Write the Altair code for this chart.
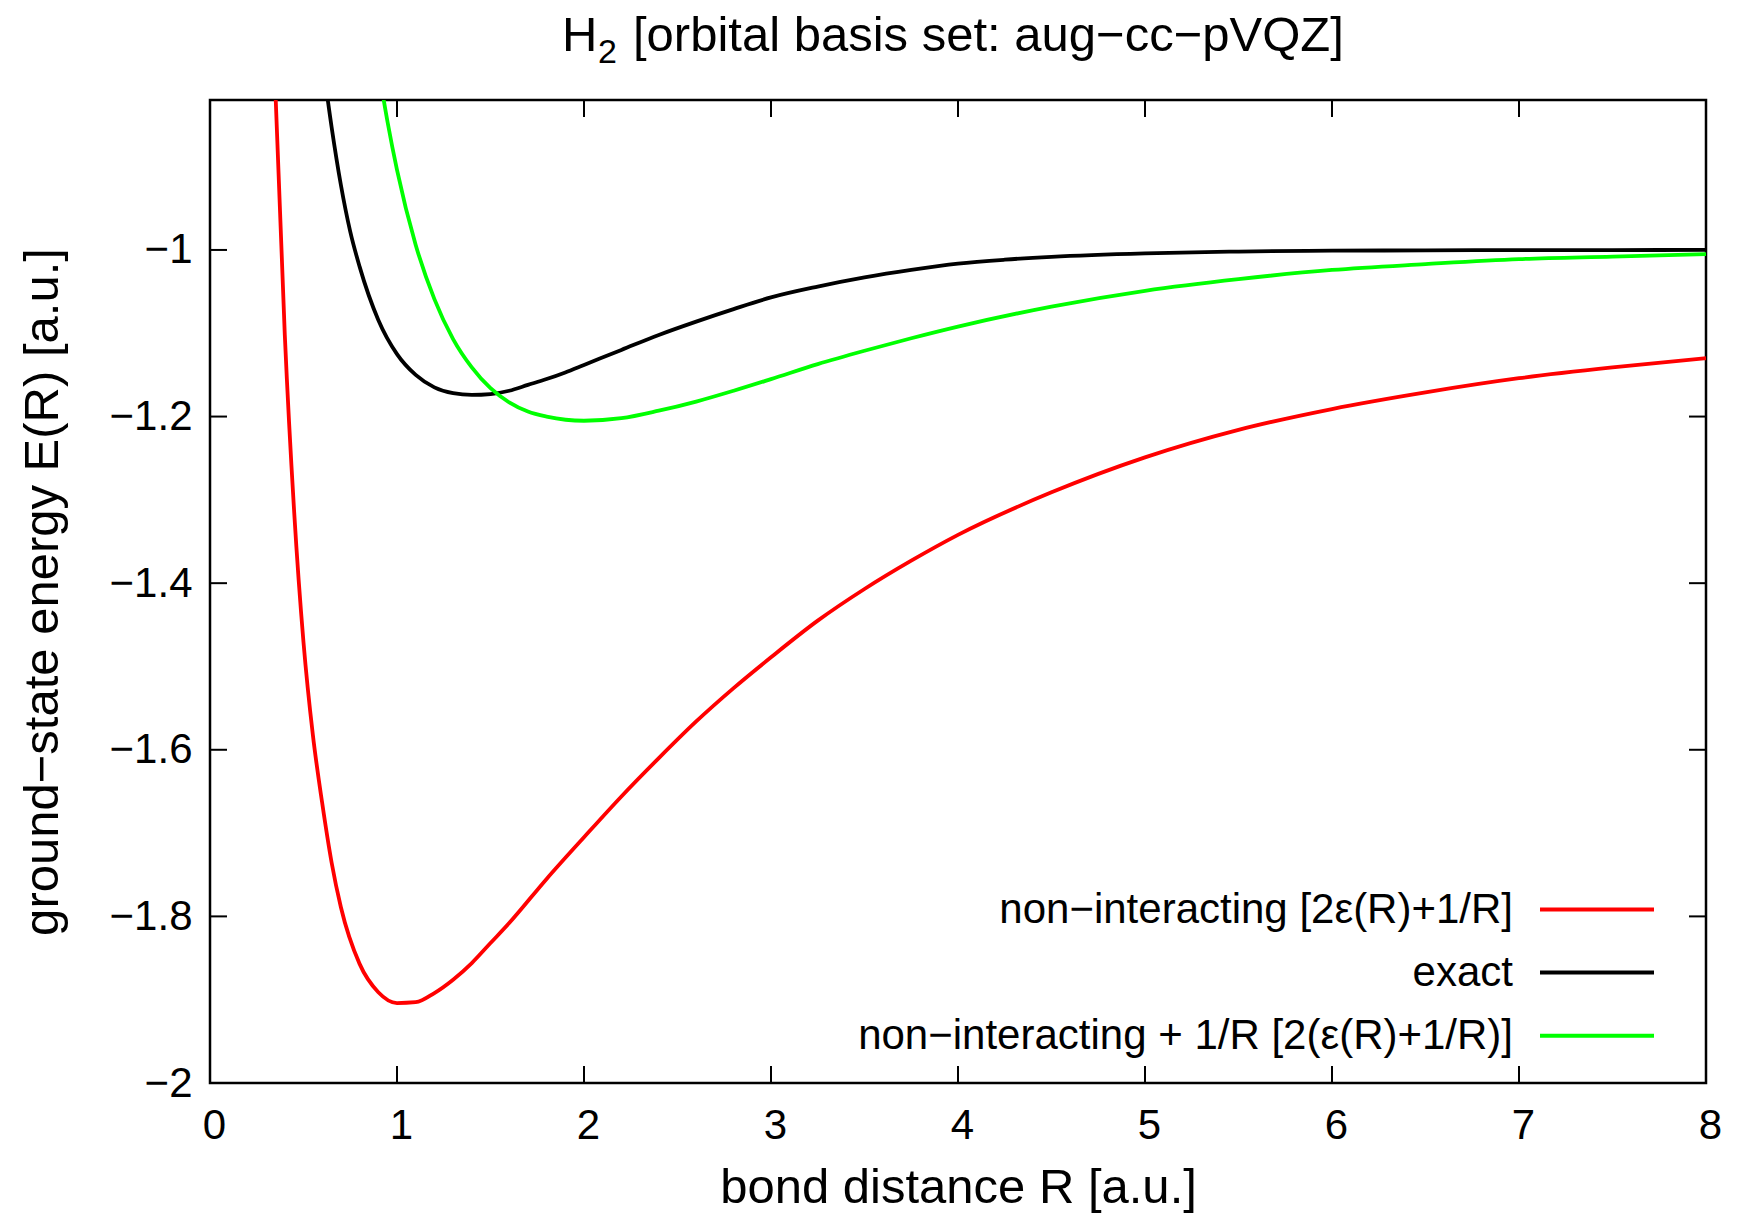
import altair as alt
import pandas as pd

# ---------------- data ----------------
R_red = [0.30, 0.35, 0.40, 0.45, 0.50, 0.55, 0.60, 0.65, 0.70, 0.80, 0.90, 1.00,
         1.10, 1.20, 1.30, 1.40, 1.50, 1.60, 1.80, 2.00, 2.20, 2.40, 2.60, 2.80,
         3.00, 3.25, 3.50, 3.75, 4.00, 4.50, 5.00, 5.50, 6.00, 6.50, 7.00, 7.50, 8.00]
E_red = [-0.400, -0.811, -1.102, -1.314, -1.471, -1.582, -1.664, -1.735, -1.789, -1.857,
         -1.891, -1.904, -1.903, -1.892, -1.876, -1.856, -1.832, -1.808, -1.755, -1.705,
         -1.656, -1.610, -1.566, -1.526, -1.489, -1.445, -1.407, -1.373, -1.342, -1.291,
         -1.249, -1.216, -1.191, -1.171, -1.154, -1.141, -1.130]

R_exact = [0.60, 0.65, 0.70, 0.75, 0.80, 0.90, 1.00, 1.10, 1.20, 1.30, 1.40, 1.50,
           1.60, 1.70, 1.80, 1.90, 2.00, 2.20, 2.40, 2.60, 2.80, 3.00, 3.25, 3.50,
           3.75, 4.00, 4.25, 4.50, 5.00, 5.50, 6.00, 6.50, 7.00, 7.50, 8.00]
E_exact = [-0.770, -0.852, -0.922, -0.978, -1.020, -1.084, -1.125, -1.150, -1.165, -1.172,
           -1.174, -1.173, -1.169, -1.162, -1.155, -1.147, -1.138, -1.120, -1.102, -1.086,
           -1.071, -1.057, -1.044, -1.033, -1.024, -1.0165, -1.0117, -1.0082, -1.0040,
           -1.0019, -1.0009, -1.0005, -1.0002, -1.0001, -1.0000]

R_green = [0.90, 0.95, 1.00, 1.10, 1.20, 1.30, 1.40, 1.50, 1.60, 1.70, 1.80, 2.00,
           2.20, 2.40, 2.60, 2.80, 3.00, 3.25, 3.50, 3.75, 4.00, 4.50, 5.00, 5.50,
           6.00, 6.50, 7.00, 7.50, 8.00]
E_green = [-0.781, -0.847, -0.904, -0.994, -1.059, -1.107, -1.141, -1.166, -1.183, -1.194,
           -1.200, -1.205, -1.202, -1.193, -1.182, -1.169, -1.155, -1.137, -1.121, -1.106,
           -1.092, -1.068, -1.049, -1.035, -1.024, -1.017, -1.011, -1.008, -1.005]

series_names = ["non−interacting [2ε(R)+1/R]", "exact", "non−interacting + 1/R [2(ε(R)+1/R)]"]
series_colors = ["#ff0000", "#000000", "#00ff00"]

x_ticks = [0, 1, 2, 3, 4, 5, 6, 7, 8]
y_ticks = [-2.0, -1.8, -1.6, -1.4, -1.2, -1.0]

title_main = "H"
title_sub = "2"
title_rest = "[orbital basis set: aug−cc−pVQZ]"
x_title = "bond distance R [a.u.]"
y_title = "ground−state energy E(R) [a.u.]"

# ---------------- build tables ----------------
rows = []
for name, Rs, Es in [(series_names[0], R_red, E_red),
                     (series_names[1], R_exact, E_exact),
                     (series_names[2], R_green, E_green)]:
    for r, e in zip(Rs, Es):
        rows.append({"R": r, "E": e, "series": name})
curves_df = pd.DataFrame(rows)

FONT = "Liberation Sans"
W, H = 1496, 983
TICK = 17

xs = alt.Scale(domain=[0, 8], nice=False, zero=False)
ys = alt.Scale(domain=[-2.0, -0.82], nice=False, zero=False)

x_axis = alt.Axis(
    values=x_ticks, format="d", ticks=False, tickSize=0, domain=False, grid=False,
    labelFont=FONT, labelFontSize=42, labelColor="black", labelPadding=22,
    labelFlush=False, labelOffset=4,
    title=x_title, titleFont=FONT, titleFontSize=49, titleFontWeight="normal",
    titleColor="black", titleX=W / 2, titleY=119, titleAlign="center",
    titleBaseline="alphabetic")
y_axis = alt.Axis(
    values=y_ticks, format=".1~f", ticks=False, tickSize=0, domain=False, grid=False,
    labelFont=FONT, labelFontSize=42, labelColor="black", labelPadding=18,
    labelFlush=False,
    title=y_title, titleFont=FONT, titleFontSize=49, titleFontWeight="normal",
    titleColor="black", titleAngle=270, titleX=-153, titleY=H / 2,
    titleAlign="center", titleBaseline="alphabetic")

curves = alt.Chart(curves_df).mark_line(clip=True, strokeWidth=3.8, interpolate="monotone").encode(
    x=alt.X("R:Q", scale=xs, axis=x_axis),
    y=alt.Y("E:Q", scale=ys, axis=y_axis),
    color=alt.Color("series:N", scale=alt.Scale(domain=series_names, range=series_colors),
                    legend=None),
)

xt_df = pd.DataFrame({"R": x_ticks})
yt_df = pd.DataFrame({"E": y_ticks})

xt_bottom = alt.Chart(xt_df).mark_rule(color="black", strokeWidth=2).encode(
    x=alt.X("R:Q", scale=xs, axis=x_axis), y=alt.value(H), y2=alt.value(H - TICK))
xt_top = alt.Chart(xt_df).mark_rule(color="black", strokeWidth=2).encode(
    x=alt.X("R:Q", scale=xs, axis=x_axis), y=alt.value(0), y2=alt.value(TICK))
yt_left = alt.Chart(yt_df).mark_rule(color="black", strokeWidth=2).encode(
    y=alt.Y("E:Q", scale=ys, axis=y_axis), x=alt.value(0), x2=alt.value(TICK))
yt_right = alt.Chart(yt_df).mark_rule(color="black", strokeWidth=2).encode(
    y=alt.Y("E:Q", scale=ys, axis=y_axis), x=alt.value(W), x2=alt.value(W - TICK))

layers = [curves, xt_bottom, xt_top, yt_left, yt_right]

# legend (gnuplot style: text left, sample line right)
leg_y = [809.5, 872.6, 935.8]
for name, col, yy in zip(series_names, series_colors, leg_y):
    ldf = pd.DataFrame({"label": [name]})
    layers.append(alt.Chart(ldf).mark_text(
        align="right", baseline="middle", font=FONT, fontSize=42, color="black").encode(
        x=alt.value(1303), y=alt.value(yy), text="label:N"))
    layers.append(alt.Chart(ldf).mark_rule(color=col, strokeWidth=4).encode(
        x=alt.value(1330), x2=alt.value(1444), y=alt.value(yy)))

# title pieces (H with subscript 2)
for txt, xx, yy, fs in [(title_main, 352, -49, 49), (title_sub, 388, -37, 34),
                        (title_rest, 423, -49, 49)]:
    tdf = pd.DataFrame({"t": [txt]})
    layers.append(alt.Chart(tdf).mark_text(
        align="left", baseline="alphabetic", font=FONT, fontSize=fs, color="black").encode(
        x=alt.value(xx), y=alt.value(yy), text="t:N"))

chart = alt.layer(*layers).properties(
    width=W, height=H,
    autosize=alt.AutoSizeParams(type="none"),
    padding={"left": 202, "top": 92, "right": 23, "bottom": 130},
    background="white",
).configure_view(stroke="black", strokeWidth=2.5)

chart.save("out.html", embed_options={"renderer": "svg", "actions": False})
